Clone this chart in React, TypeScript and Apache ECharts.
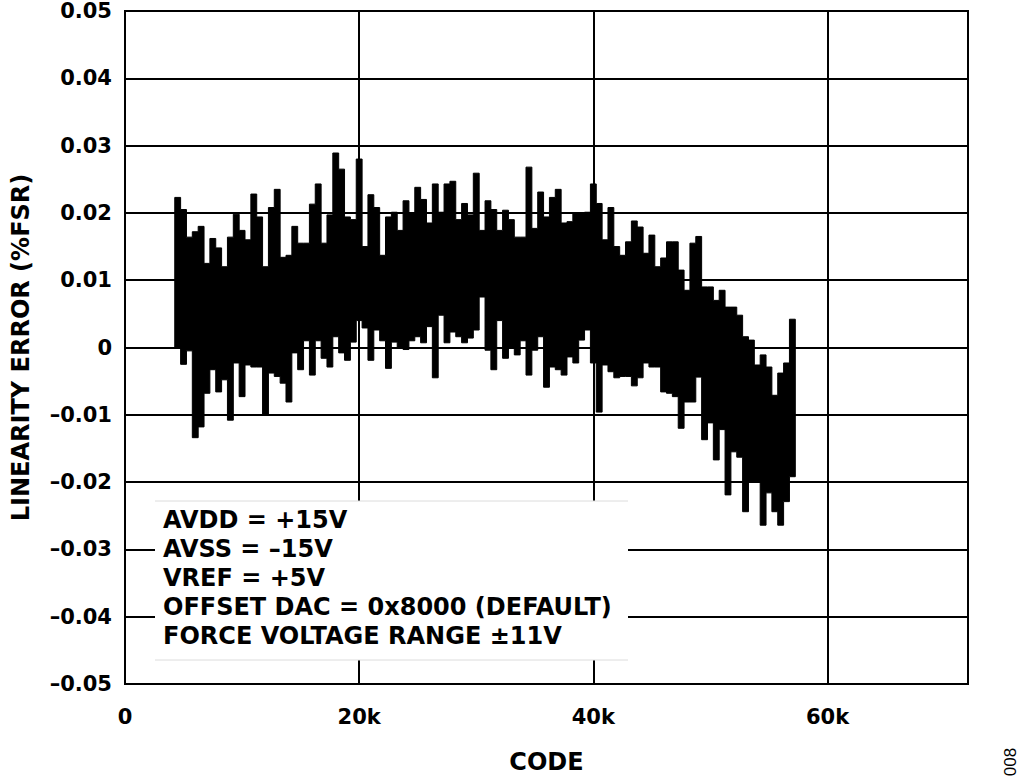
import React, { useEffect, useRef } from "react";
import * as echarts from "echarts";

// Codes at which the upper and lower envelope of the INL trace were read
const CODES = [
  4500, 5000, 5500, 6000, 6500, 7000, 7500, 8000, 8500, 9000,
  9500, 10000, 10500, 11000, 11500, 12000, 12500, 13000, 13500, 14000,
  14500, 15000, 15500, 16000, 16500, 17000, 17500, 18000, 18500, 19000,
  19500, 20000, 20500, 21000, 21500, 22000, 22500, 23000, 23500, 24000,
  24500, 25000, 25500, 26000, 26500, 27000, 27500, 28000, 28500, 29000,
  29500, 30000, 30500, 31000, 31500, 32000, 32500, 33000, 33500, 34000,
  34500, 35000, 35500, 36000, 36500, 37000, 37500, 38000, 38500, 39000,
  39500, 40000, 40500, 41000, 41500, 42000, 42500, 43000, 43500, 44000,
  44500, 45000, 45500, 46000, 46500, 47000, 47500, 48000, 48500, 49000,
  49500, 50000, 50500, 51000, 51500, 52000, 52500, 53000, 53500, 54000,
  54500, 55000, 55500, 56000, 56500, 57000,
];

// Upper excursions (%FSR)
const UPPER = [
  0.0223, 0.0205, 0.0164, 0.0172, 0.018, 0.0125, 0.0162, 0.0148, 0.012, 0.0164,
  0.0198, 0.0174, 0.016, 0.0228, 0.0194, 0.012, 0.0208, 0.0235, 0.0134, 0.0137,
  0.018, 0.0155, 0.0155, 0.0213, 0.0243, 0.0155, 0.0197, 0.0289, 0.0265, 0.0194,
  0.019, 0.028, 0.015, 0.0227, 0.0208, 0.0137, 0.0194, 0.0201, 0.0174, 0.0218,
  0.02, 0.0238, 0.022, 0.0185, 0.0243, 0.0201, 0.0243, 0.0247, 0.019, 0.0214,
  0.0197, 0.0259, 0.0174, 0.0218, 0.0205, 0.0174, 0.0204, 0.019, 0.0164, 0.0164,
  0.0268, 0.0177, 0.0231, 0.0194, 0.0223, 0.0235, 0.0185, 0.0187, 0.02, 0.02,
  0.0201, 0.0243, 0.0214, 0.016, 0.0208, 0.015, 0.0137, 0.0157, 0.0188, 0.0179,
  0.014, 0.0167, 0.012, 0.0133, 0.0157, 0.0157, 0.0115, 0.0085, 0.0155, 0.0165,
  0.009, 0.009, 0.007, 0.0085, 0.006, 0.006, 0.0048, 0.0016, 0.0011, -0.0026,
  -0.0011, -0.0029, -0.0071, -0.0038, -0.0023, 0.0042,
];

// Lower excursions (%FSR)
const LOWER = [
  0.0, -0.0025, -0.0005, -0.0134, -0.0118, -0.0068, -0.0033, -0.0066, -0.0048, -0.0108,
  -0.0023, -0.0073, -0.0026, -0.0029, -0.0029, -0.01, -0.0038, -0.0043, -0.0053, -0.0081,
  -0.0008, -0.0033, 0.001, -0.0041, 0.001, -0.0016, -0.0029, 0.0016, -0.0008, -0.0019,
  0.0008, 0.004, 0.0029, -0.0019, 0.0026, 0.001, -0.0031, 0.0008, 0.0, -0.0003,
  0.001, 0.0016, 0.0007, 0.0031, -0.0045, 0.0048, 0.0007, 0.0023, 0.0016, 0.0007,
  0.0014, 0.0026, 0.0075, -0.0004, -0.0033, 0.004, -0.0016, 0.0, -0.0011, 0.001,
  -0.0041, -0.0004, 0.0016, -0.0059, -0.0029, -0.0033, -0.0041, -0.0014, -0.0023, 0.0011,
  0.0026, -0.0023, -0.0096, -0.0026, -0.0036, -0.0045, -0.0043, -0.0043, -0.0057, -0.0045,
  -0.0023, -0.0029, -0.0029, -0.0066, -0.0068, -0.0073, -0.012, -0.0081, -0.0081, -0.0044,
  -0.0137, -0.0112, -0.0167, -0.0122, -0.0219, -0.0155, -0.0163, -0.0244, -0.02, -0.02,
  -0.0264, -0.0216, -0.0244, -0.0264, -0.0229, -0.0192,
];

const X_TITLE = "CODE";
const Y_TITLE = "LINEARITY ERROR (%FSR)";
const NOTE_LINES = [
  "AVDD = +15V",
  "AVSS = \u201315V",
  "VREF = +5V",
  "OFFSET DAC = 0x8000 (DEFAULT)",
  "FORCE VOLTAGE RANGE \u00B111V",
];
const FIG_ID = "008";

const FONT = "DejaVu Sans";

export default function App() {
  const ref = useRef<HTMLDivElement>(null);

  useEffect(() => {
    if (!ref.current) return;
    const chart = echarts.init(ref.current, undefined, { renderer: "svg" });

    const step = CODES[1] - CODES[0];
    const data = CODES.map((c, i) => [c, LOWER[i], UPPER[i]]);

    const noteTexts = NOTE_LINES.map((t, i) => ({
      type: "text",
      x: 163,
      y: 520 + i * 29,
      z: 101,
      style: {
        text: t,
        fill: "#000",
        fontFamily: FONT,
        fontWeight: "bold",
        fontSize: 24,
        align: "left",
        verticalAlign: "middle",
      },
    }));

    chart.setOption({
      animation: false,
      backgroundColor: "#fff",
      grid: {
        left: 125,
        right: 56,
        top: 11,
        bottom: 97,
        show: true,
        borderColor: "#000",
        borderWidth: 2,
      },
      xAxis: {
        type: "value",
        min: 0,
        max: 72000,
        interval: 20000,
        name: X_TITLE,
        nameLocation: "middle",
        nameGap: 66,
        nameTextStyle: { fontFamily: FONT, fontWeight: "bold", fontSize: 24, color: "#000" },
        axisLine: { show: false },
        axisTick: { show: false },
        axisLabel: {
          margin: 22,
          fontFamily: FONT,
          fontWeight: "bold",
          fontSize: 21,
          color: "#000",
          showMaxLabel: false,
          formatter: (v: number) => (v === 0 ? "0" : `${Math.round(v / 1000)}k`),
        },
        splitLine: { show: true, lineStyle: { color: "#000", width: 2 } },
      },
      yAxis: {
        type: "value",
        min: -0.05,
        max: 0.05,
        interval: 0.01,
        name: Y_TITLE,
        nameLocation: "middle",
        nameRotate: 90,
        nameGap: 92,
        nameTextStyle: { fontFamily: FONT, fontWeight: "bold", fontSize: 24, color: "#000" },
        axisLine: { show: false },
        axisTick: { show: false },
        axisLabel: {
          margin: 13,
          fontFamily: FONT,
          fontWeight: "bold",
          fontSize: 21,
          color: "#000",
          formatter: (v: number) => {
            const r = Math.round(v * 100) / 100;
            if (Math.abs(r) < 1e-9) return "0";
            return (r < 0 ? "\u2013" : "") + Math.abs(r).toFixed(2);
          },
        },
        splitLine: { show: true, lineStyle: { color: "#000", width: 2 } },
      },
      series: [
        {
          type: "custom",
          data,
          encode: { x: 0, y: [1, 2] },
          z: 5,
          renderItem: (params: any, api: any) => {
            if (params.dataIndex !== 0) return null;
            const n = params.dataInsideLength ?? data.length;
            const top: number[][] = [];
            const bottom: number[][] = [];
            for (let k = 0; k < n; k++) {
              const c = api.value(0, k);
              const lo = api.value(1, k);
              const hi = api.value(2, k);
              top.push(api.coord([c - step / 2, hi]));
              top.push(api.coord([c + step / 2, hi]));
              bottom.push(api.coord([c - step / 2, lo]));
              bottom.push(api.coord([c + step / 2, lo]));
            }
            const points = top.concat(bottom.reverse());
            return {
              type: "polygon",
              shape: { points },
              style: { fill: "#000", stroke: "#000", lineWidth: 1, lineJoin: "miter" },
            };
          },
        },
      ],
      graphic: [
        {
          type: "rect",
          z: 100,
          shape: { x: 155, y: 501, width: 473, height: 159 },
          style: { fill: "#fff" },
        },
        {
          type: "line",
          z: 101,
          shape: { x1: 155, y1: 501, x2: 628, y2: 501 },
          style: { stroke: "#dcdcdc", lineWidth: 1 },
        },
        {
          type: "line",
          z: 101,
          shape: { x1: 155, y1: 660, x2: 628, y2: 660 },
          style: { stroke: "#dcdcdc", lineWidth: 1 },
        },
        ...noteTexts,
        {
          type: "text",
          x: 1010,
          y: 762,
          rotation: Math.PI / 2,
          z: 101,
          style: {
            text: FIG_ID,
            fill: "#000",
            fontFamily: "Liberation Sans",
            fontSize: 17,
            align: "center",
            verticalAlign: "middle",
          },
        },
      ],
    });

    return () => chart.dispose();
  }, []);

  return (
    <div
      ref={ref}
      style={{ position: "fixed", left: 0, top: 0, width: 1024, height: 781, background: "#fff" }}
    />
  );
}
